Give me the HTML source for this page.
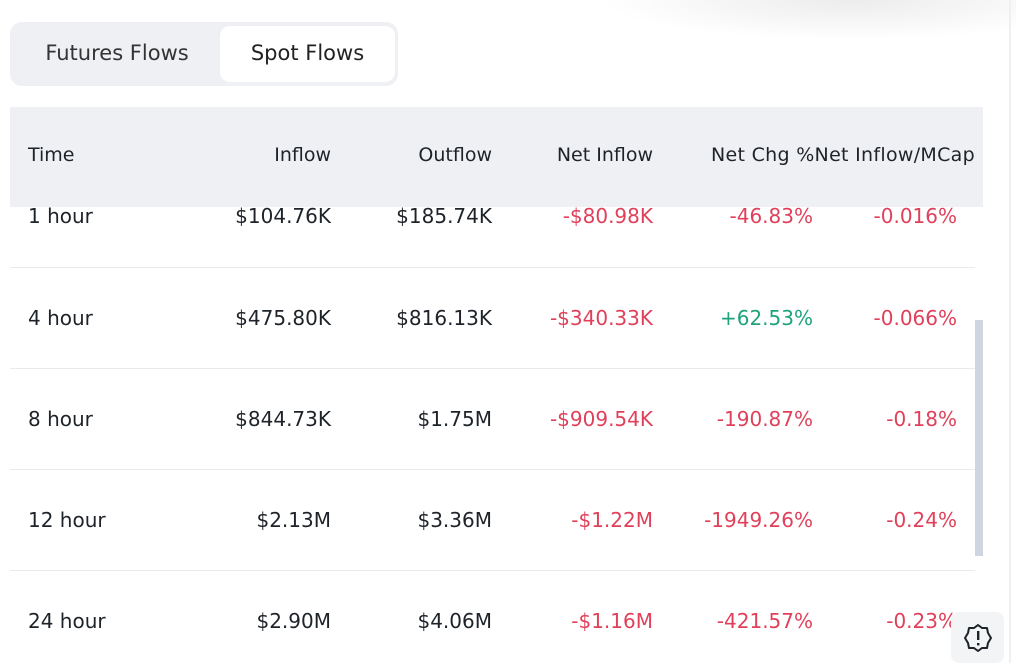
<!DOCTYPE html>
<html><head><meta charset="utf-8"><style>
body{margin:0;width:1016px;height:663px;background:#fff;overflow:hidden;position:relative;font-family:"DejaVu Sans","Liberation Sans",sans-serif;color:#1e2329}
div{position:absolute}
.t{font-size:20px;line-height:26px;white-space:nowrap}
.r{text-align:right}
.red{color:#e0405a}.grn{color:#1fa37d}
.sep{left:10px;width:965px;height:1px;background:#e8eaee}
</style></head><body>
<div style="left:600px;top:-40px;width:420px;height:80px;background:radial-gradient(ellipse at 60% 50%,#ececec,rgba(255,255,255,0) 70%)"></div>
<div style="left:10px;top:22px;width:388px;height:64px;background:#eef0f3;border-radius:12px"></div>
<div style="left:220px;top:26px;width:175px;height:56px;background:#fff;border-radius:10px"></div>
<div class="t" style="left:10px;width:214px;top:40px;text-align:center;font-size:21px;color:#333">Futures Flows</div>
<div class="t" style="left:220px;width:175px;top:40px;text-align:center;font-size:21px;color:#222">Spot Flows</div>
<div style="left:10px;top:107px;width:973px;height:100px;background:#eef0f3"></div>
<div class="t" style="left:28px;top:142px;font-size:19px">Time</div>
<div class="t r" style="right:685px;top:142px;font-size:19px">Inflow</div>
<div class="t r" style="right:524px;top:142px;font-size:19px">Outflow</div>
<div class="t r" style="right:363px;top:142px;font-size:19px">Net Inflow</div>
<div class="t r" style="right:41px;top:142px;font-size:19px;letter-spacing:0.3px">Net Chg %Net Inflow/MCap</div>

<div class="sep" style="top:267px"></div>
<div class="sep" style="top:368px"></div>
<div class="sep" style="top:469px"></div>
<div class="sep" style="top:570px"></div>
<div style="left:975px;top:320px;width:8px;height:236px;background:#cfd5e1"></div>
<div style="left:1009px;top:0;width:2px;height:663px;background:#f0f0f0"></div>

<div class="t" style="left:28px;top:203px">1 hour</div>
<div class="t r" style="right:685px;top:203px">$104.76K</div>
<div class="t r" style="right:524px;top:203px">$185.74K</div>
<div class="t r red" style="right:363px;top:203px">-$80.98K</div>
<div class="t r red" style="right:203px;top:203px">-46.83%</div>
<div class="t r red" style="right:59px;top:203px">-0.016%</div>

<div class="t" style="left:28px;top:305px">4 hour</div>
<div class="t r" style="right:685px;top:305px">$475.80K</div>
<div class="t r" style="right:524px;top:305px">$816.13K</div>
<div class="t r red" style="right:363px;top:305px">-$340.33K</div>
<div class="t r grn" style="right:203px;top:305px">+62.53%</div>
<div class="t r red" style="right:59px;top:305px">-0.066%</div>

<div class="t" style="left:28px;top:406px">8 hour</div>
<div class="t r" style="right:685px;top:406px">$844.73K</div>
<div class="t r" style="right:524px;top:406px">$1.75M</div>
<div class="t r red" style="right:363px;top:406px">-$909.54K</div>
<div class="t r red" style="right:203px;top:406px">-190.87%</div>
<div class="t r red" style="right:59px;top:406px">-0.18%</div>

<div class="t" style="left:28px;top:507px">12 hour</div>
<div class="t r" style="right:685px;top:507px">$2.13M</div>
<div class="t r" style="right:524px;top:507px">$3.36M</div>
<div class="t r red" style="right:363px;top:507px">-$1.22M</div>
<div class="t r red" style="right:203px;top:507px">-1949.26%</div>
<div class="t r red" style="right:59px;top:507px">-0.24%</div>

<div class="t" style="left:28px;top:608px">24 hour</div>
<div class="t r" style="right:685px;top:608px">$2.90M</div>
<div class="t r" style="right:524px;top:608px">$4.06M</div>
<div class="t r red" style="right:363px;top:608px">-$1.16M</div>
<div class="t r red" style="right:203px;top:608px">-421.57%</div>
<div class="t r red" style="right:59px;top:608px">-0.23%</div>

<div style="left:951px;top:612px;width:53px;height:51px;background:#f3f4f6;border-radius:8px"></div>
<svg style="position:absolute;left:962px;top:622px" width="32" height="32" viewBox="0 0 32 32"><polygon points="16,3 20,6 25,6 26,11 29,16 26,21 25,26 20,26 16,29 12,26 7,26 6,21 3,16 6,11 7,6 12,6" fill="none" stroke="#1e2329" stroke-width="2" stroke-linejoin="round"/><rect x="15" y="9" width="2.4" height="9" fill="#1e2329"/><rect x="15" y="21" width="2.4" height="2.4" fill="#1e2329"/></svg>
</body></html>
